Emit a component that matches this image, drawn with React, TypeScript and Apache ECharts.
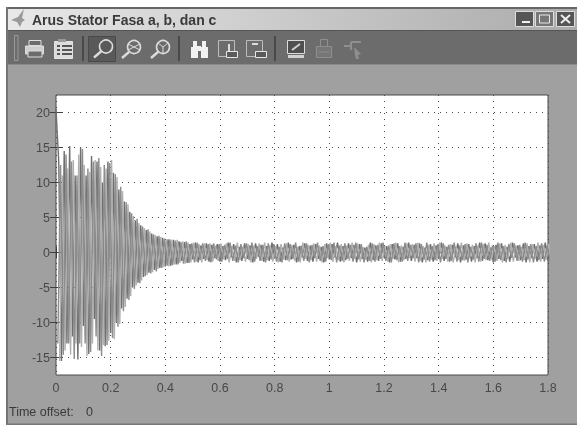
import React, { useEffect, useRef } from "react";
import * as echarts from "echarts";

const TITLE = "Arus Stator Fasa a, b, dan c";
const OFFSET_LABEL = "Time offset:";
const OFFSET_VALUE = "0";
const X_TICKS = [0, 0.2, 0.4, 0.6, 0.8, 1, 1.2, 1.4, 1.6, 1.8];
const Y_TICKS = [-15, -10, -5, 0, 5, 10, 15, 20];
const SAMPLE_STEP = 0.01;
const PHASE_START = [0, 0.0067, 0.0133];

const phaseA = [
  20.5, 13, -15.5, 14.5, -13, 15.2, -12, 11, -15.3, 15, -10.5, 11, -14.5, 13.8, -9.5, 13, -14, 10, -13.4, 13,
  -11.5, 11.4, -10, 9, -8, 7.3, -6.6, 5.8, -5, 4.6, -4.3, 3.9, -3.5, 3.2, -2.9, 2.7, -2.5, 2.3, -2.2, 2.1,
  -2, 1.9, -1.9, 1.8, -1.7, 1.6, -1.2, 1.5, -1.5, 1.2, -1, 1.4, -1.4, 1, -0.9, 1.3, -1.3, 1.1, -0.8, 1.2,
  -1.3, 0.9, -1.1, 1.4, -0.7, 1.2, -1.4, 0.8, -1.2, 1.3, -0.9, 1, -1.4, 1.3, -0.6, 1.1, -1.3, 0.9, -1.2, 1.4,
  -0.8, 1.2, -1.3, 0.7, -1.1, 1.4, -1, 1.1, -1.4, 0.9, -0.7, 1.3, -1.2, 1, -1.3, 1.2, -0.9, 0.8, -1.4, 1.3,
  -1, 1.2, -0.7, 1.4, -1.3, 0.9, -1.1, 1.3, -0.8, 1.1, -1.4, 1.2, -0.9, 0.7, -1.3, 1.4, -1.1, 1, -1.2, 1.3,
  -0.7, 0.9, -1.4, 1.2, -1, 1.3, -1.3, 0.8, -0.9, 1.4, -1.2, 1.1, -0.8, 1.3, -1.4, 0.7, -1.1, 1.2, -1.3, 1,
  -0.9, 1.4, -1.2, 0.8, -1.3, 1.1, -0.7, 1.3, -1.4, 1, -1, 1.2, -1.3, 0.9, -0.8, 1.4, -1.2, 1.3, -1.1, 0.7,
  -1.4, 1.1, -0.9, 1.3, -1.2, 0.8, -1.3, 1.4, -0.7, 1, -1.1, 1.3, -1.4, 0.9, -0.8, 1.2, -1.3, 1, -0.9, 1.4, -1.2,
];

const phaseB = [
  -13, 12.5, -14.6, 14, -13, 13, -15.2, 11, -13, 14.8, -13, 12, -14.2, 13, -12, 13.5, -14.8, 12.5, -13.2, 12.8,
  -12.2, 11.2, -10.6, 9.4, -8.4, 7.2, -6.8, 5.6, -5.2, 4.8, -4.4, 3.7, -3.4, 3.3, -3, 2.6, -2.7, 2.4, -2.2, 2,
  -1.9, 1.9, -1.8, 1.7, -1.7, 1.5, -1.6, 1.6, -1.5, 1.3, -1.4, 1.4, -1.1, 1.3, -1.2, 1.2, -1.4, 1.3, -1, 1.2,
  -1.3, 1.1, -0.9, 1.4, -1.2, 1, -1.4, 1.2, -0.8, 1.3, -1.1, 1.4, -1.3, 0.9, -1.2, 1.1, -1.4, 1.3, -1, 1.2,
  -1.3, 0.8, -1.4, 1.3, -1.1, 1.2, -0.9, 1.4, -1.3, 1, -1.2, 1.3, -1.4, 1.1, -0.8, 1.4, -1.2, 0.9, -1.3, 1.2,
  -1.1, 1.4, -1.4, 1, -1.2, 1.3, -0.9, 1.1, -1.3, 1.4, -1, 1.2, -1.4, 0.8, -1.2, 1.3, -1.3, 1.1, -0.9, 1.4,
  -1.2, 1, -1.4, 1.3, -1.1, 0.9, -1.3, 1.4, -1.2, 1.1, -0.8, 1.3, -1.4, 1.2, -1, 1.4, -1.3, 0.9, -1.1, 1.2,
  -1.4, 1.3, -0.9, 1.1, -1.2, 1.4, -1.3, 1, -1.1, 1.2, -1.4, 0.8, -1, 1.3, -1.3, 1.4, -0.9, 1.1, -1.2, 1,
  -1.3, 1.4, -1.1, 0.9, -1.4, 1.2, -0.8, 1.3, -1.2, 1.1, -1.3, 1.4, -1, 1.2, -1.4, 0.9, -1.1, 1.3, -1.3, 1, -1.2,
];

const phaseC = [
  -15.5, 11, -14, 12, -14.6, 13.2, -13, 14, -13.5, 12.5, -14.8, 11.5, -13, 13.2, -14, 12.2, -13.2, 12, -12.6, 13.2,
  -12.4, 10.8, -10.2, 8.8, -7.8, 6.9, -6.2, 5.2, -4.7, 4.2, -4, 3.5, -3.2, 3, -2.8, 2.5, -2.4, 2.2, -2.1, 1.9,
  -2, 1.8, -1.7, 1.8, -1.5, 1.6, -1.6, 1.4, -1.4, 1.4, -1.3, 1.2, -1.4, 1.3, -1.1, 1.3, -1.3, 1, -1.2, 1.3,
  -1, 1.3, -1.4, 0.9, -1.2, 1.4, -1.1, 0.8, -1.3, 1.2, -1.4, 1, -0.9, 1.3, -1.2, 1.4, -1.1, 1, -1.3, 0.9,
  -1.4, 1.2, -1, 1.3, -1.3, 1.1, -1.2, 0.8, -1.4, 1.4, -0.9, 1.1, -1.1, 1.3, -1.3, 1, -1.4, 1.2, -0.8, 1.4,
  -1.3, 0.9, -1.1, 1.2, -1.4, 1, -1.2, 1.4, -0.9, 1.3, -1.3, 0.8, -1, 1.1, -1.4, 1.2, -1.1, 1.4, -1.2, 0.9,
  -1.3, 1.2, -0.9, 1.4, -1.4, 1, -1.1, 1.3, -0.8, 1.2, -1.3, 1.4, -1.2, 0.9, -1.4, 1.1, -1, 1.3, -1.2, 1.4,
  -0.9, 1, -1.3, 1.2, -1.4, 0.9, -1.1, 1.4, -1.2, 1.3, -0.8, 1.1, -1.4, 1, -1.3, 1.2, -1.1, 1.4, -1, 0.9,
  -1.2, 1.3, -1.4, 1.1, -0.9, 1.4, -1.3, 1, -1.2, 0.8, -1.1, 1.3, -1.4, 1.2, -0.9, 1.4, -1.3, 1.1, -1, 1.2, -1.4,
];

const toPoints = (values: number[], start: number) => values.map((v, i) => [start + i * SAMPLE_STEP, v]);

const magnifier = (cx: number, cy: number, color: string, inner?: any[]) => [
  { type: "circle", shape: { cx, cy, r: 6.5 }, style: { fill: "transparent", stroke: color, lineWidth: 1.6 } },
  { type: "line", shape: { x1: cx - 5, y1: cy + 5, x2: cx - 12, y2: cy + 11 }, style: { stroke: color, lineWidth: 2.4 } },
  ...(inner || []),
];

const rect = (x: number, y: number, width: number, height: number, fill: string, stroke?: string) => ({
  type: "rect",
  shape: { x, y, width, height },
  style: { fill, stroke: stroke || "none", lineWidth: 1 },
});
const line = (x1: number, y1: number, x2: number, y2: number, stroke: string, lineWidth = 1) => ({
  type: "line",
  shape: { x1, y1, x2, y2 },
  style: { stroke, lineWidth },
});

const chrome: any[] = [
  rect(0, 0, 577, 7, "#ffffff"),
  rect(0, 0, 6, 425, "#ffffff"),
  rect(6, 7, 571, 2, "#666666"),
  rect(6, 7, 2, 418, "#747474"),
  rect(6, 423.5, 571, 1.5, "#777777"),
  {
    type: "rect",
    shape: { x: 8, y: 9, width: 569, height: 21 },
    style: {
      fill: new echarts.graphic.LinearGradient(0, 0, 1, 0, [
        { offset: 0, color: "#e8e8e8" },
        { offset: 1, color: "#ababab" },
      ]),
    },
  },
  rect(8, 30, 569, 35, "#6c6c6c"),
  rect(8, 30, 569, 1, "#555555"),
  rect(8, 64, 569, 1, "#8a8a8a"),
  // title icon
  { type: "polygon", shape: { points: [[11, 20], [18, 17], [24, 9], [22, 18], [25, 20], [22, 22], [20, 27], [17, 22]] }, style: { fill: "#9a9a9a" } },
  { type: "text", x: 32, y: 19.5, style: { text: TITLE, font: "bold 14px 'Liberation Sans'", fill: "#3a3a3a", verticalAlign: "middle", letterSpacing: 0.6 } },
  // window buttons
  rect(515.5, 11.5, 18, 15, "#555555", "#dddddd"),
  rect(522, 21, 8, 2, "#eeeeee"),
  rect(535.5, 11.5, 18, 15, "#777777", "#dddddd"),
  rect(539.5, 15, 10, 8, "#777777", "#e8e8e8"),
  rect(556.5, 11.5, 18, 15, "#555555", "#dddddd"),
  line(561, 15, 570, 23, "#eeeeee", 2),
  line(570, 15, 561, 23, "#eeeeee", 2),
  // grip + separators
  rect(14.5, 35.5, 3.5, 25, "#6c6c6c", "#999999"),
  rect(82, 36, 2, 25, "#4a4a4a"),
  rect(178, 36, 2, 25, "#4a4a4a"),
  rect(274, 36, 2, 25, "#4a4a4a"),
  // printer
  rect(29, 40.5, 12, 5, "#6c6c6c", "#dddddd"),
  rect(25.5, 46, 18, 8, "#cfcfcf", "#dddddd"),
  rect(28, 51, 14, 6, "#6c6c6c", "#dddddd"),
  // clipboard
  rect(54.5, 41.5, 18, 17, "#dcdcdc", "#e4e4e4"),
  rect(58, 39, 8, 3, "#999999"),
  rect(62, 45, 10, 2, "#555555"),
  rect(62, 49, 10, 2, "#555555"),
  rect(62, 53, 10, 2, "#555555"),
  rect(57, 45, 3, 2, "#555555"),
  rect(57, 49, 3, 2, "#555555"),
  rect(57, 53, 3, 2, "#555555"),
  // zoom buttons
  rect(88.5, 36.5, 27, 25, "#595959", "#494949"),
  ...magnifier(106, 46.5, "#dcdcdc"),
  ...magnifier(134, 47, "#dcdcdc", [
    line(128, 44, 140, 50, "#dcdcdc"),
    line(128, 50, 140, 44, "#dcdcdc"),
  ]),
  ...magnifier(163, 47, "#dcdcdc", [
    line(158, 43, 163, 47, "#dcdcdc"),
    line(168, 43, 163, 47, "#dcdcdc"),
    line(163, 47, 163, 53, "#dcdcdc"),
  ]),
  // binoculars
  rect(191, 47, 7, 11, "#f2f2f2"),
  rect(201, 47, 7, 11, "#f2f2f2"),
  rect(193, 41, 4, 7, "#f2f2f2"),
  rect(202, 41, 4, 7, "#f2f2f2"),
  rect(197, 46, 4, 5, "#f2f2f2"),
  // autoscale icons
  rect(218.5, 40.5, 16, 16, "#6c6c6c", "#bdbdbd"),
  line(229, 44, 229, 51, "#dcdcdc", 2),
  rect(226.5, 51.5, 11, 6, "#5a5a5a", "#e8e8e8"),
  rect(246.5, 40.5, 16, 16, "#6c6c6c", "#bdbdbd"),
  line(252, 44, 258, 44, "#dcdcdc", 2),
  rect(255.5, 51.5, 11, 6, "#5a5a5a", "#e8e8e8"),
  // monitor
  rect(287.5, 40.5, 17, 13, "#4f4f4f", "#dcdcdc"),
  line(292, 50, 300, 44, "#d0d0d0", 2),
  rect(288, 55, 16, 3, "#d0d0d0"),
  // lock, disabled
  rect(320.5, 39.5, 7, 7, "#6c6c6c", "#8f8f8f"),
  rect(316.5, 46.5, 15, 11, "#767676", "#8f8f8f"),
  line(319, 52, 329, 52, "#8f8f8f", 1),
  // cursor, disabled
  line(344, 46, 350, 46, "#8f8f8f", 2),
  line(351, 42, 361, 42, "#8f8f8f", 2),
  line(351, 42, 351, 50, "#8f8f8f", 2),
  { type: "polygon", shape: { points: [[354, 47], [361, 54], [358, 55], [359, 59], [356, 59], [355, 55]] }, style: { fill: "#8f8f8f" } },
  // status
  { type: "text", x: 9, y: 412, style: { text: OFFSET_LABEL, font: "12.5px 'Liberation Sans'", fill: "#3a3a3a", verticalAlign: "middle" } },
  { type: "text", x: 86, y: 412, style: { text: OFFSET_VALUE, font: "12.5px 'Liberation Sans'", fill: "#3a3a3a", verticalAlign: "middle" } },
];

const tickColor = "#3f3f3f";
const gridDots = { color: "#4a4a4a", type: [1, 5], width: 1 };

export default function App() {
  const ref = useRef<HTMLDivElement>(null);
  useEffect(() => {
    document.body.style.margin = "0";
    const chart = echarts.init(ref.current!, undefined, { renderer: "svg" });
    const grid = { show: true, left: 56, top: 95, width: 492, height: 280, backgroundColor: "#ffffff", borderColor: "#4a4a4a", borderWidth: 1 };
    const sharedY = { type: "value", min: -17.5, max: 22.5, axisLine: { show: false } };
    const sharedX = { type: "value", min: 0, max: 1.8, interval: 0.2, axisLine: { show: false } };
    const trace = (name: string, values: number[], start: number, color: string) => ({
      name,
      type: "line",
      data: toPoints(values, start),
      showSymbol: false,
      lineStyle: { width: 1.4, color, join: "bevel" },
    });
    chart.setOption({
      animation: false,
      backgroundColor: "#a0a0a0",
      grid,
      xAxis: [
        {
          ...sharedX,
          position: "bottom",
          axisTick: { inside: true, length: 6, lineStyle: { color: tickColor } },
          axisLabel: {
            margin: 6,
            fontFamily: "Liberation Sans",
            fontSize: 12.5,
            color: "#484848",
            formatter: (v: number) => String(X_TICKS.find((t) => Math.abs(t - v) < 1e-6) ?? ""),
          },
          splitLine: { show: true, lineStyle: gridDots },
        },
        { ...sharedX, position: "top", axisTick: { inside: true, length: 6, lineStyle: { color: tickColor } }, axisLabel: { show: false }, splitLine: { show: false } },
      ],
      yAxis: [
        {
          ...sharedY,
          position: "left",
          axisTick: { inside: true, length: 6, customValues: Y_TICKS, lineStyle: { color: tickColor } },
          axisLabel: { margin: 6, fontFamily: "Liberation Sans", fontSize: 12.5, color: "#484848", customValues: Y_TICKS },
          splitLine: { show: true, lineStyle: gridDots },
        },
        {
          ...sharedY,
          position: "right",
          axisTick: { inside: true, length: 6, customValues: Y_TICKS, lineStyle: { color: tickColor } },
          axisLabel: { show: false, customValues: Y_TICKS },
          splitLine: { show: false },
        },
      ],
      graphic: { elements: chrome },
      series: [
        trace("a", phaseA, PHASE_START[0], "#6f6f6f"),
        trace("c", phaseC, PHASE_START[2], "#b0b0b0"),
        trace("b", phaseB, PHASE_START[1], "#8c8c8c"),
      ],
    });
    return () => chart.dispose();
  }, []);
  return <div ref={ref} style={{ width: 577, height: 425, filter: "blur(0.5px)" }} />;
}
